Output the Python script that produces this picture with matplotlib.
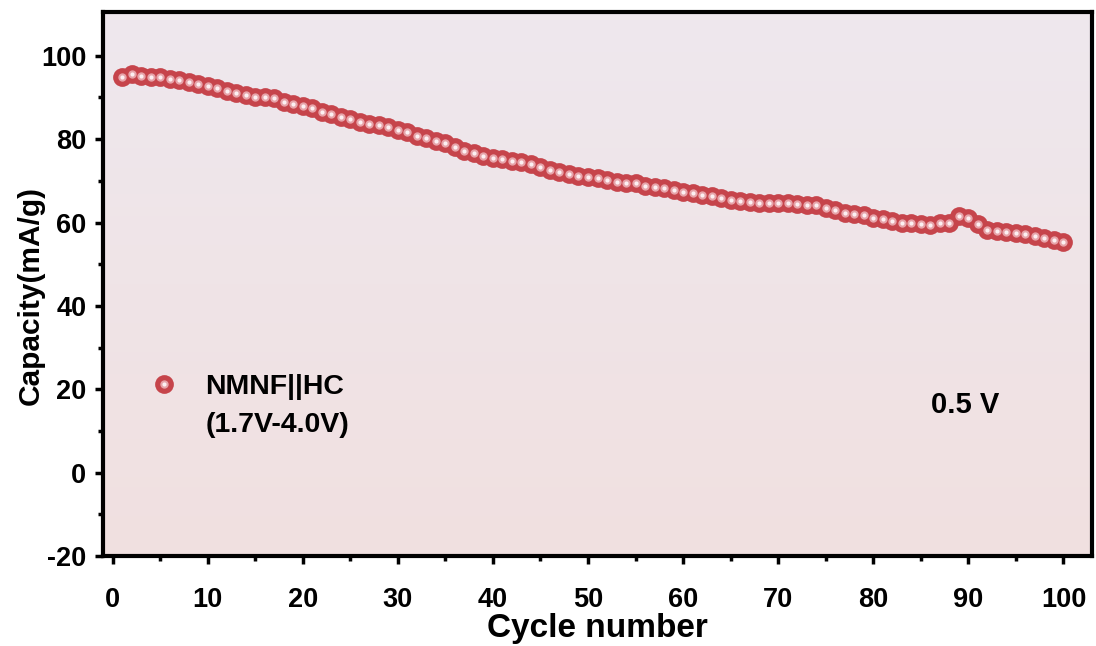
import numpy as np
import matplotlib
matplotlib.use("Agg")
import matplotlib.pyplot as plt
from matplotlib.lines import Line2D
from matplotlib.legend_handler import HandlerTuple

# Cycling data
cycles = list(range(1, 101))
capacity = [
    95.0, 95.6, 95.1, 95.0, 94.9, 94.5, 94.1, 93.7, 93.2, 92.8,
    92.2, 91.6, 91.0, 90.6, 90.0, 90.2, 89.8, 89.0, 88.4, 87.9,
    87.4, 86.6, 86.0, 85.4, 84.8, 84.0, 83.6, 83.4, 82.8, 82.2,
    81.6, 80.8, 80.2, 79.6, 79.0, 78.0, 77.2, 76.7, 76.0, 75.5,
    75.2, 74.8, 74.4, 74.0, 73.2, 72.7, 72.2, 71.6, 71.2, 71.0,
    70.7, 70.2, 69.8, 69.5, 69.4, 68.8, 68.6, 68.2, 67.8, 67.4,
    67.0, 66.7, 66.4, 66.0, 65.5, 65.2, 65.0, 64.7, 64.7, 64.7,
    64.8, 64.5, 64.3, 64.2, 63.6, 63.0, 62.4, 62.0, 61.8, 61.2,
    60.8, 60.4, 60.0, 59.8, 59.6, 59.5, 59.8, 59.8, 61.6, 61.2,
    59.6, 58.2, 58.0, 57.8, 57.6, 57.2, 56.7, 56.3, 55.8, 55.4,
]
series_label = "NMNF||HC"
series_note = "(1.7V-4.0V)"
rate_label = "0.5 V"
x_ticks = [0, 10, 20, 30, 40, 50, 60, 70, 80, 90, 100]
y_ticks = [-20, 0, 20, 40, 60, 80, 100]

plt.rcParams['font.family'] = ['Liberation Sans', 'DejaVu Sans']
plt.rcParams['font.weight'] = 'bold'
plt.rcParams['axes.unicode_minus'] = False

fig = plt.figure(figsize=(10.96, 6.46), dpi=100)
ax = fig.add_axes([103 / 1096, 1 - 556 / 646, 989 / 1096, 544 / 646])

# Soft vertical background gradient
top = np.array([238, 232, 238]) / 255
bottom = np.array([241, 224, 224]) / 255
t = np.linspace(0, 1, 256)[:, None]
grad = (top[None, :] * (1 - t) + bottom[None, :] * t)[:, None, :]
ax.imshow(grad, extent=[0, 1, 0, 1], transform=ax.transAxes,
          aspect='auto', zorder=0)

# Shaded sphere markers: red body, pink halo, white glint
red = '#c6444b'
base, = ax.plot(cycles, capacity, 'o', color=red, ms=13.5, mew=0, zorder=3)
mid, = ax.plot(cycles, capacity, 'o', color='#e7a3a9', ms=6, mew=0, zorder=4)
core, = ax.plot(cycles, capacity, 'o', color='#fcf0f2', ms=3, mew=0, zorder=5)

ax.set_xlim(-1, 103)
ax.set_ylim(-20, 110.5)
ax.set_xticks(x_ticks)
ax.set_yticks(y_ticks)
ax.set_xticks(np.arange(5, 101, 10), minor=True)
ax.set_yticks(np.arange(-10, 101, 20), minor=True)

for s in ax.spines.values():
    s.set_linewidth(3)
ax.tick_params(which='major', direction='out', length=6, width=2.5,
               labelsize=19.5)
ax.tick_params(axis='x', which='major', pad=16)
ax.tick_params(axis='y', which='major', pad=6)
ax.tick_params(which='minor', direction='out', length=3.5, width=2.5)
for lab in ax.get_xticklabels() + ax.get_yticklabels():
    lab.set_fontweight('bold')

ax.set_xlabel('Cycle number', fontsize=24, fontweight='bold', labelpad=0)
ax.set_ylabel('Capacity(mA/g)', fontsize=21.5, fontweight='bold')
ax.yaxis.set_label_coords(-0.059, 0.478)

blank = Line2D([], [], linestyle='none', marker='none')
leg = ax.legend([(base, mid, core), blank], [series_label, series_note],
                handler_map={tuple: HandlerTuple(ndivide=1)},
                loc='upper left', bbox_to_anchor=(0.046, 0.334),
                frameon=False, fontsize=20.5, handlelength=1.1,
                handletextpad=0.9, labelspacing=0.42, borderpad=0,
                borderaxespad=0)
for txt in leg.get_texts():
    txt.set_fontweight('bold')

ax.text(0.872, 0.278, rate_label, transform=ax.transAxes, fontsize=21,
        fontweight='bold', ha='center', va='center')

fig.savefig('out.png', dpi=100)
